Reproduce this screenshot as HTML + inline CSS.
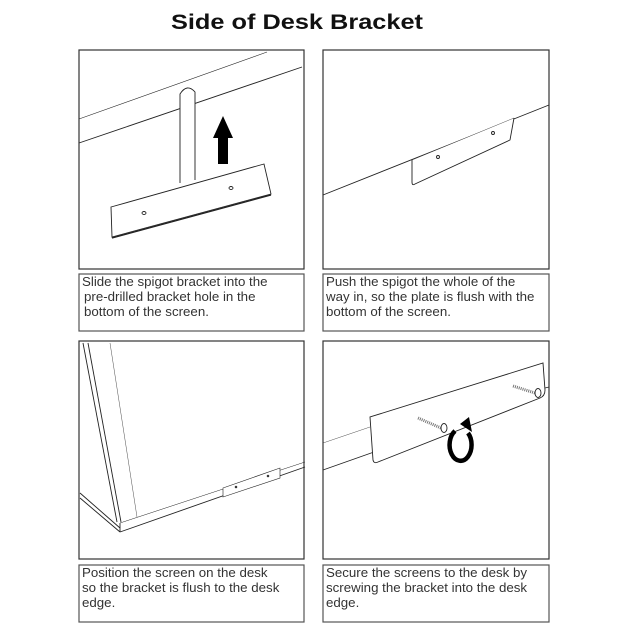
<!DOCTYPE html>
<html><head><meta charset="utf-8"><style>
html,body{margin:0;padding:0;background:#fff;}
svg{display:block;}
text{font-family:"Liberation Sans",sans-serif;}
.t{font-size:13.3px;fill:#333;}
</style></head><body>
<svg width="627" height="626" viewBox="0 0 627 626" xmlns="http://www.w3.org/2000/svg">
<rect width="627" height="626" fill="#fff"/>
<text x="171" y="29" font-size="21" font-weight="bold" fill="#111" textLength="252" lengthAdjust="spacingAndGlyphs">Side of Desk Bracket</text>

<g fill="none" stroke="#333" stroke-width="1.2">
<rect x="79" y="50" width="225" height="219"/>
<rect x="79" y="274" width="225" height="57" stroke="#555"/>
<rect x="323" y="50" width="226" height="219"/>
<rect x="323" y="274" width="226" height="57" stroke="#555"/>
<rect x="79" y="341" width="225" height="218"/>
<rect x="79" y="565" width="225" height="57" stroke="#555"/>
<rect x="323" y="341" width="226" height="218"/>
<rect x="323" y="565" width="226" height="57" stroke="#555"/>
</g>

<!-- Panel 1 -->
<g fill="none" stroke="#222" stroke-width="0.9">
<line x1="79" y1="119" x2="267" y2="52" stroke-width="0.6"/>
<line x1="79" y1="143" x2="302" y2="67"/>
<path d="M180,183 L180,94 Q187,83 195,92 L195,180" fill="#fff"/>
<path d="M111,207 L264,164 L271,194 L112,237 Z" fill="#fff"/>
<line x1="112" y1="238" x2="271" y2="195" stroke-width="1.3"/>
<ellipse cx="144" cy="213" rx="2" ry="1.5"/>
<ellipse cx="231" cy="188" rx="2" ry="1.5"/>
</g>
<path d="M218,164 L218,138 L213,138 L223,116 L233,138 L228,138 L228,164 Z" fill="#000"/>

<!-- Panel 2 -->
<g fill="none" stroke="#222" stroke-width="0.9">
<line x1="323" y1="195" x2="549" y2="105"/>
<path d="M412,160 L412,182 Q412,186 415,184 L510,140 L514,118" fill="#fff"/>
<line x1="412" y1="160" x2="514" y2="118" stroke-width="0.4"/>
<ellipse cx="438" cy="157" rx="1.5" ry="1.5"/>
<ellipse cx="493" cy="133" rx="1.5" ry="1.5"/>
</g>

<!-- Panel 3 -->
<g fill="none" stroke="#222" stroke-width="0.9">
<line x1="83" y1="343" x2="117" y2="522"/>
<line x1="88" y1="343" x2="121" y2="522"/>
<line x1="110" y1="343" x2="137" y2="517" stroke-width="0.4"/>
<line x1="120" y1="523" x2="305" y2="462" stroke-width="0.5"/>
<line x1="120" y1="532" x2="305" y2="467"/>
<line x1="120" y1="523" x2="120" y2="532"/>
<line x1="80" y1="493" x2="120" y2="528"/>
<line x1="80" y1="498" x2="120" y2="532"/>
<path d="M223,488 L280,468 L280,478 L223,497 Z" fill="#fff" stroke-width="0.6"/>
<circle cx="236" cy="487" r="0.8"/>
<circle cx="268" cy="476" r="0.8"/>
</g>

<!-- Panel 4 -->
<g fill="none" stroke="#222" stroke-width="0.9">
<line x1="323" y1="443" x2="370" y2="427" stroke-width="0.4"/>
<line x1="323" y1="470" x2="374" y2="452"/>
<line x1="545" y1="388" x2="549" y2="387"/>
<path d="M370,417 L373,460 Q374,464 378,462 L540,398 Q545,396 545,390 L543,363 Z" fill="#fff"/>
<line x1="418" y1="418" x2="441" y2="428" stroke="#777" stroke-width="3" stroke-dasharray="1 1"/>
<ellipse cx="444" cy="428" rx="3" ry="4.5" fill="#fff"/>
<line x1="513" y1="386" x2="535" y2="393" stroke="#777" stroke-width="3" stroke-dasharray="1 1"/>
<ellipse cx="538" cy="393" rx="3" ry="4.5" fill="#fff"/>
</g>
<path d="M468,433 A11,16 0 1 1 455,431" fill="none" stroke="#000" stroke-width="4.5"/>
<path d="M460,424 L469,417 L472,432 Z" fill="#000"/>

<text class="t"><tspan x="82" y="286">Slide the spigot bracket into the</tspan><tspan x="84" y="301">pre-drilled bracket hole in the</tspan><tspan x="84" y="316">bottom of the screen.</tspan></text>
<text class="t"><tspan x="326" y="286">Push the spigot the whole of the</tspan><tspan x="326" y="301">way in, so the plate is flush with the</tspan><tspan x="326" y="316">bottom of the screen.</tspan></text>
<text class="t"><tspan x="82" y="577">Position the screen on the desk</tspan><tspan x="82" y="592">so the bracket is flush to the desk</tspan><tspan x="82" y="607">edge.</tspan></text>
<text class="t"><tspan x="326" y="577">Secure the screens to the desk by</tspan><tspan x="326" y="592">screwing the bracket into the desk</tspan><tspan x="326" y="607">edge.</tspan></text>
</svg>
</body></html>
